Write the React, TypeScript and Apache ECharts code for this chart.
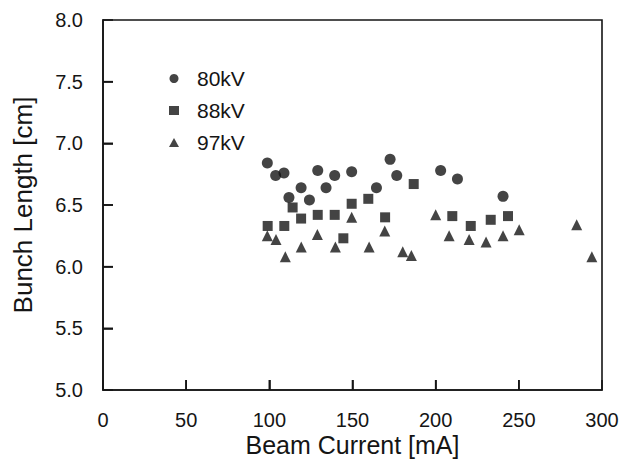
import React, { useEffect, useRef } from "react";
import * as echarts from "echarts";

const xTicks = [0, 50, 100, 150, 200, 250, 300];
const yTicks = [5.0, 5.5, 6.0, 6.5, 7.0, 7.5, 8.0];

const seriesNames = ["80kV", "88kV", "97kV"];

const data80kV: [number, number][] = [
  [98.8, 6.84], [103.8, 6.74], [108.8, 6.76], [111.8, 6.56], [119.1, 6.64],
  [124.1, 6.54], [129.1, 6.78], [134.1, 6.64], [139.3, 6.74], [149.5, 6.77],
  [164.4, 6.64], [172.6, 6.87], [176.6, 6.74], [203.0, 6.78], [213.1, 6.71],
  [240.5, 6.57],
];

const data88kV: [number, number][] = [
  [99.0, 6.33], [109.0, 6.33], [114.0, 6.48], [119.1, 6.39], [129.1, 6.42],
  [139.3, 6.42], [144.5, 6.23], [149.5, 6.51], [159.5, 6.55], [169.6, 6.40],
  [186.8, 6.67], [210.0, 6.41], [221.1, 6.33], [233.1, 6.38], [243.5, 6.41],
];

const data97kV: [number, number][] = [
  [98.8, 6.25], [104.0, 6.22], [109.6, 6.08], [119.2, 6.16], [128.9, 6.26],
  [139.7, 6.16], [149.5, 6.40], [160.0, 6.16], [169.4, 6.29], [180.2, 6.12],
  [185.4, 6.09], [200.0, 6.42], [208.1, 6.25], [220.1, 6.22], [230.3, 6.20],
  [240.5, 6.25], [250.2, 6.30], [284.8, 6.34], [293.9, 6.08],
];

const FONT = "'Liberation Sans', Arial, Helvetica, sans-serif";
const INK = "#151515";

export default function App() {
  const ref = useRef<HTMLDivElement>(null);

  useEffect(() => {
    if (!ref.current) return;
    const chart = echarts.init(ref.current, undefined, { renderer: "svg" });
    const symbols = ["circle", "rect", "triangle"];
    const sizes = [11, 10, 11];
    const datasets = [data80kV, data88kV, data97kV];

    const tick = {
      show: true,
      inside: true,
      length: 10,
      lineStyle: { color: INK, width: 1.6 },
    };

    chart.setOption({
      animation: false,
      backgroundColor: "#ffffff",
      grid: {
        left: 103,
        right: 21,
        top: 20,
        bottom: 70,
        containLabel: false,
        outerBoundsMode: "none",
        show: true,
        borderColor: INK,
        borderWidth: 1.6,
        backgroundColor: "transparent",
      },
      legend: {
        orient: "vertical",
        left: 164,
        top: 63,
        itemGap: 11,
        itemWidth: 10,
        itemHeight: 9,
        selectedMode: false,
        data: seriesNames.map((n, i) => ({ name: n, icon: symbols[i] })),
        textStyle: {
          fontFamily: FONT,
          fontSize: 21,
          color: INK,
          padding: [0, 0, 0, 13],
        },
      },
      xAxis: {
        type: "value",
        min: xTicks[0],
        max: xTicks[xTicks.length - 1],
        interval: 50,
        name: "Beam Current [mA]",
        nameLocation: "middle",
        nameGap: 43,
        nameMoveOverlap: false,
        nameTextStyle: { fontFamily: FONT, fontSize: 25, lineHeight: 24, color: INK },
        splitLine: { show: false },
        axisLine: { show: true, onZero: false, lineStyle: { color: INK, width: 1.6 } },
        axisTick: { ...tick, lineStyle: { ...tick.lineStyle } },
        axisLabel: { fontFamily: FONT, fontSize: 20, lineHeight: 18, color: INK, margin: 21 },
      },
      yAxis: {
        type: "value",
        min: yTicks[0],
        max: yTicks[yTicks.length - 1],
        interval: 0.5,
        name: "Bunch Length [cm]",
        nameLocation: "middle",
        nameGap: 68,
        nameMoveOverlap: false,
        nameTextStyle: { fontFamily: FONT, fontSize: 26, lineHeight: 24, color: INK },
        splitLine: { show: false },
        axisLine: { show: true, onZero: false, lineStyle: { color: INK, width: 1.6 } },
        axisTick: { ...tick, lineStyle: { ...tick.lineStyle } },
        axisLabel: {
          fontFamily: FONT,
          fontSize: 20,
          color: INK,
          margin: 20,
          formatter: (v: number) => v.toFixed(1),
        },
      },
      series: seriesNames.map((n, i) => ({
        name: n,
        type: "scatter",
        symbol: symbols[i],
        symbolSize: sizes[i],
        data: datasets[i],
        itemStyle: { color: INK },
      })),
    });

    // inner tick marks (backup, as thin filled rects), positioned through the axes' own scales
    const tickMarks: any[] = [];
    xTicks.slice(1, -1).forEach((v) => {
      const p = chart.convertToPixel({ gridIndex: 0 }, [v, yTicks[0]]) as number[];
      tickMarks.push({
        type: "rect",
        z: 10,
        shape: { x: p[0] - 0.8, y: p[1] - 10, width: 1.6, height: 10 },
        style: { fill: INK },
      });
    });
    yTicks.slice(1, -1).forEach((v) => {
      const p = chart.convertToPixel({ gridIndex: 0 }, [xTicks[0], v]) as number[];
      tickMarks.push({
        type: "rect",
        z: 10,
        shape: { x: p[0], y: p[1] - 0.8, width: 10, height: 1.6 },
        style: { fill: INK },
      });
    });
    chart.setOption({ graphic: tickMarks });

    return () => chart.dispose();
  }, []);

  return (
    <div
      ref={ref}
      style={{ position: "fixed", left: 0, top: 0, width: 623, height: 460 }}
    />
  );
}
